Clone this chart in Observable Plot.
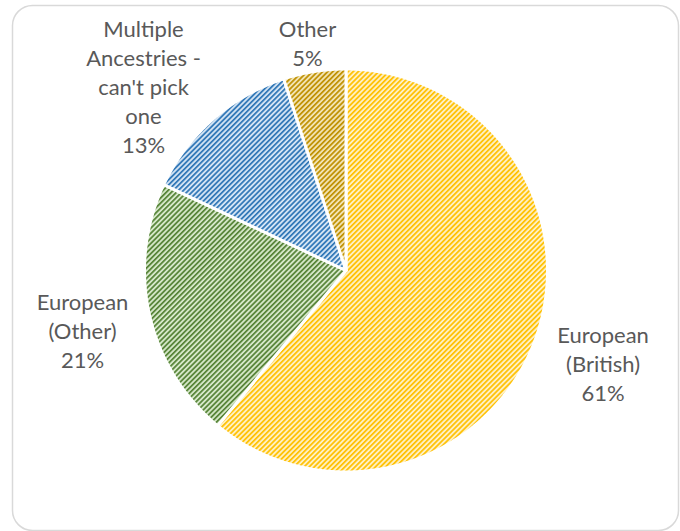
<!DOCTYPE html>
<html><head><meta charset="utf-8">
<script src="https://cdn.jsdelivr.net/npm/d3@7"></script>
<script src="https://cdn.jsdelivr.net/npm/@observablehq/plot@0.6"></script>
<style>body{margin:0;background:#fff}</style>
</head><body><div id="chart"></div>
<script>
// ---- data ----
const categories = ["European\n(British)", "European\n(Other)", "Multiple\nAncestries -\ncan't pick\none", "Other"];
const values = [61, 21, 13, 5];

// ---- styles ----
const stripeColors = ["#FFC000", "#548235", "#2E75B6", "#BF9000"];
const backColors = ["#FFF0C2", "#D5E7C8", "#D3E4F4", "#F2E3B3"];
const fontFamily = "Lato, 'Open Sans', sans-serif";
const fontSize = 22;
const lineHeightPx = 29;

// ---- layout ----
const W = 680, H = 531;
const frame = {left: 12, right: 678, top: 5, bottom: 530};
const cx = 345.5, cy = 270, R = 201.5;
const labelGap = 15, labelTopMin = 27;

const total = d3.sum(values);
const arcs = d3.pie().sort(null).value(d => d)(values);

const slices = arcs.map((a, i) => {
  const pts = [{x: 0, y: 0}];
  const n = Math.max(2, Math.ceil((a.endAngle - a.startAngle) / 0.005));
  for (let k = 0; k <= n; k++) {
    const t = a.startAngle + (a.endAngle - a.startAngle) * k / n;
    pts.push({x: Math.sin(t), y: Math.cos(t)});
  }
  pts.push({x: 0, y: 0});
  return pts;
});

const ctx = document.createElement("canvas").getContext("2d");
ctx.font = `${fontSize}px ${fontFamily}`;
const labels = arcs.map((a, i) => {
  const text = categories[i] + "\n" + Math.round(values[i] / total * 100) + "%";
  const lines = text.split("\n");
  const w = d3.max(lines, l => ctx.measureText(l).width);
  const h = (lines.length - 1) * lineHeightPx + fontSize;
  const mid = (a.startAngle + a.endAngle) / 2;
  const sx = Math.sin(mid), sy = Math.cos(mid);
  const p = Math.abs(sx) * w / 2 + Math.abs(sy) * h / 2;
  const d = R + labelGap + p;
  let px = cx + sx * d, py = cy - sy * d;
  const minY = labelTopMin + (lines.length - 1) * lineHeightPx / 2;
  if (py < minY) py = minY;
  return {x: (px - cx) / R, y: (cy - py) / R, text};
});

const plot = Plot.plot({
  width: W, height: H,
  marginLeft: frame.left, marginRight: W - frame.right,
  marginTop: frame.top, marginBottom: H - frame.bottom,
  x: {domain: [(frame.left - cx) / R, (frame.right - cx) / R], axis: null},
  y: {domain: [(cy - frame.bottom) / R, (cy - frame.top) / R], axis: null},
  style: {background: "#fff", overflow: "visible"},
  marks: [
    Plot.frame({rx: 20, stroke: "#d9d9d9", strokeWidth: 1.5}),
    ...slices.map((pts, i) => Plot.line(pts, {
      x: "x", y: "y", fill: `url(#pat${i})`, stroke: "#fff", strokeWidth: 3, strokeLinejoin: "round"
    })),
    Plot.text(labels, {
      x: "x", y: "y", text: "text", fill: "#595959", fontSize,
      fontFamily, lineHeight: lineHeightPx / fontSize
    })
  ]
});

const defs = d3.select(plot).insert("defs", ":first-child");
stripeColors.forEach((c, i) => {
  const s = 3.6;
  const p = defs.append("pattern").attr("id", "pat" + i)
    .attr("patternUnits", "userSpaceOnUse").attr("width", s).attr("height", s)
    .attr("patternTransform", "rotate(45)");
  p.append("rect").attr("width", s).attr("height", s).attr("fill", backColors[i]);
  p.append("rect").attr("width", 1.7).attr("height", s).attr("fill", c);
});

document.getElementById("chart").appendChild(plot);
</script>
</body></html>
